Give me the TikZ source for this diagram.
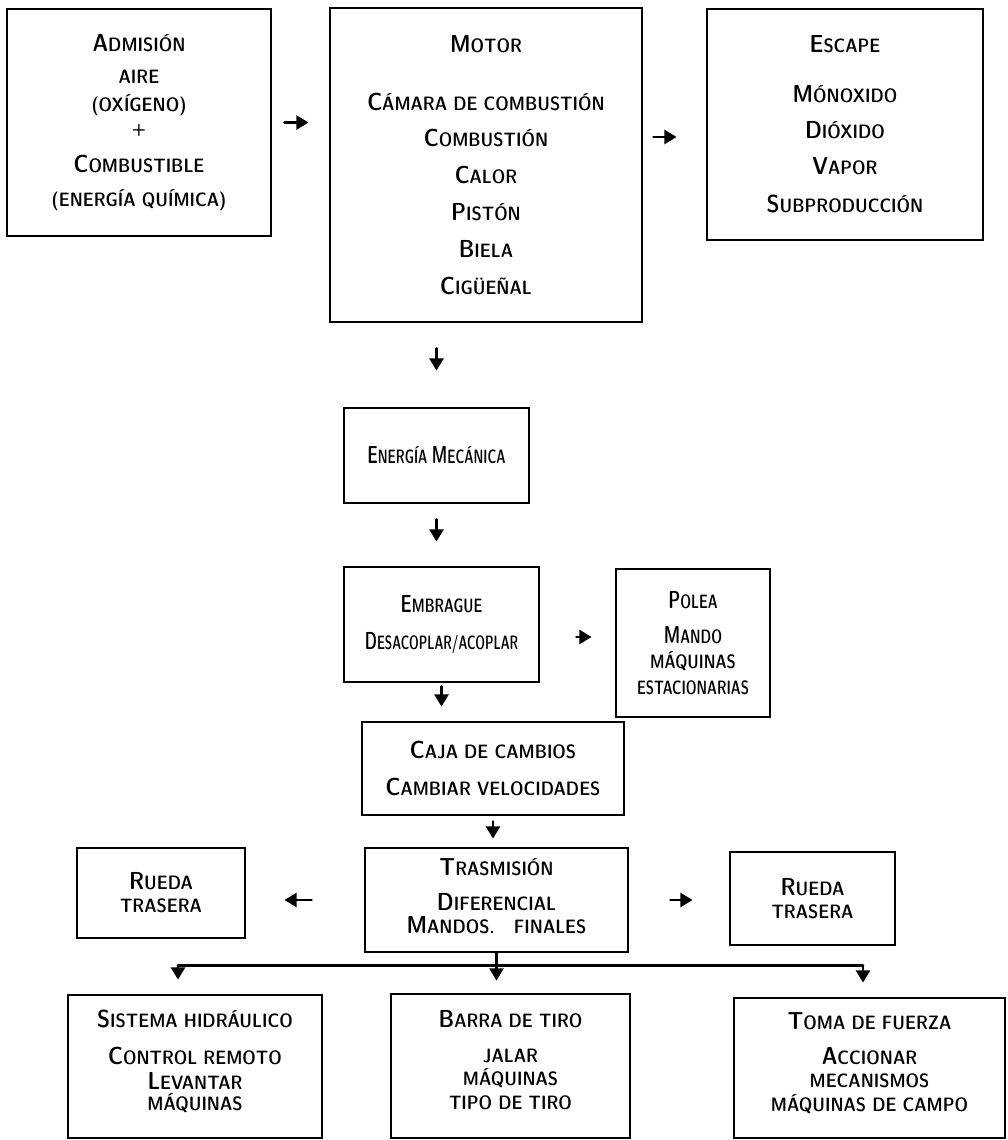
\documentclass[tikz,border=0pt]{standalone}
\usepackage{tikz}
\usepackage{graphicx}
\usetikzlibrary{arrows.meta}
\newcommand{\ini}[1]{{\fontsize{14}{19}\selectfont #1}}
\newcommand{\nar}[2][0.8]{\scalebox{#1}[1]{#2}}

\begin{document}
\begin{tikzpicture}[>={Triangle[length=7pt,width=8pt]},line cap=round,
  font=\fontseries{sbc}\sffamily\fontsize{11}{19}\selectfont,
  box/.style={draw,line width=1.6pt,align=center,inner sep=0pt},
  arr/.style={->,line width=1.5pt}]
\useasboundingbox (0,0) rectangle (20.14,-22.8);
\node[box,minimum width=5.28cm,minimum height=4.54cm] (adm) at (2.78,-2.45)
  {\ini{A}DMISIÓN\\[-1pt] AIRE\\[-3pt] (OXÍGENO)\\[-5pt] +\\[2pt] \ini{C}OMBUSTIBLE\\ (ENERGÍA QUÍMICA)};
\node[box,minimum width=6.24cm,minimum height=6.28cm] (motor) at (9.72,-3.30)
  {\ini{M}OTOR\\[14pt] \ini{C}ÁMARA DE COMBUSTIÓN\\[2pt] \ini{C}OMBUSTIÓN\\[2pt] \ini{C}ALOR\\[2pt]
   \ini{P}ISTÓN\\[2pt] \ini{B}IELA\\[2pt] \ini{C}IGÜEÑAL};
\node[box,minimum width=5.52cm,minimum height=4.62cm] (esc) at (16.90,-2.49)
  {\ini{E}SCAPE\\[9pt] \ini{M}ÓNOXIDO\\[2pt] \ini{D}IÓXIDO\\[1pt] \ini{V}APOR\\[3pt] \ini{S}UBPRODUCCIÓN};
\node[box,minimum width=3.70cm,minimum height=1.90cm] (ener) at (8.73,-9.11)
  {\nar[0.75]{\ini{E}NERGÍA \ini{M}ECÁNICA}};
\node[box,minimum width=3.90cm,minimum height=2.30cm] (embr) at (8.83,-12.49)
  {\nar{\ini{E}MBRAGUE}\\[2pt] \nar[0.72]{\ini{D}ESACOPLAR/ACOPLAR}};
\node[box,minimum width=3.08cm,minimum height=2.96cm] (polea) at (13.86,-12.86)
  {\nar{\ini{P}OLEA}\\[1pt] \nar{\ini{M}ANDO}\\[-5pt] \nar[0.9]{MÁQUINAS}\\[-4pt] \nar{ESTACIONARIAS}};
\node[box,minimum width=5.24cm,minimum height=1.86cm] (caja) at (9.86,-15.37)
  {\ini{C}AJA DE CAMBIOS\\[2pt] \ini{C}AMBIAR VELOCIDADES};
\node[box,minimum width=5.26cm,minimum height=2.08cm] (tras) at (9.93,-18.00)
  {\ini{T}RASMISIÓN\\[1pt] \ini{D}IFERENCIAL\\[-6pt] \ini{M}ANDOS.\quad FINALES\\[-14pt]\mbox{}};
\node[box,minimum width=3.36cm,minimum height=1.80cm] (ruedaL) at (3.22,-17.86)
  {\ini{R}UEDA\\[-6pt] TRASERA};
\node[box,minimum width=3.30cm,minimum height=1.86cm] (ruedaR) at (16.25,-17.97)
  {\ini{R}UEDA\\[-6pt] TRASERA};
\node[box,minimum width=5.08cm,minimum height=2.86cm] (sis) at (3.90,-21.33)
  {\ini{S}ISTEMA HIDRÁULICO\\[2pt] \ini{C}ONTROL REMOTO\\[-5pt] \ini{L}EVANTAR\\[-7pt] MÁQUINAS\\[-12pt]\mbox{}};
\node[box,minimum width=4.78cm,minimum height=2.88cm] (barra) at (10.21,-21.32)
  {\ini{B}ARRA DE TIRO\\[1pt] JALAR\\[-6pt] MÁQUINAS\\[-5pt] TIPO DE TIRO\\[-12pt]\mbox{}};
\node[box,minimum width=5.42cm,minimum height=2.80cm] (toma) at (17.39,-21.36)
  {\ini{T}OMA DE FUERZA\\[1pt] \ini{A}CCIONAR\\[-6pt] MECANISMOS\\[-5pt] MÁQUINAS DE CAMPO\\[-12pt]\mbox{}};
\draw[arr,shorten <=0.24cm,shorten >=0.40cm] (adm.east) -- (adm.east -| motor.west);
\draw[arr,shorten <=0.20cm,shorten >=0.58cm] ([yshift=-0.25cm]esc.west -| motor.east) -- ([yshift=-0.25cm]esc.west);
\draw[arr,shorten <=0.50cm,shorten >=0.72cm] (ener.north |- motor.south) -- (ener.north);
\draw[arr,shorten <=0.30cm,shorten >=0.48cm] (ener.south) -- (ener.south |- embr.north);
\draw[arr,shorten <=0.72cm,shorten >=0.46cm] ([yshift=-0.25cm]embr.east) -- ([yshift=-0.25cm]embr.east -| polea.west);
\draw[arr,shorten <=0.06cm,shorten >=0.28cm] (embr.south) -- (embr.south |- caja.north);
\draw[arr,shorten <=0.10cm,shorten >=0.16cm] (caja.south) -- (caja.south |- tras.north);
\draw[arr,shorten <=1.04cm,shorten >=0.76cm] (tras.west) -- (tras.west -| ruedaL.east);
\draw[arr,shorten <=0.82cm,shorten >=0.72cm] (tras.east) -- (tras.east -| ruedaR.west);
\coordinate (bus) at ([yshift=-0.24cm]tras.south);
\coordinate (bl) at ([xshift=-0.34cm]sis.north);
\coordinate (br) at ([xshift=-0.13cm]toma.north);
\draw[line width=1.5pt] (bl |- bus) -- (br |- bus);
\draw[arr,shorten >=0.24cm] (tras.south) -- (tras.south |- barra.north);
\draw[arr,shorten >=0.28cm] (bl |- bus) -- (bl);
\draw[arr,shorten >=0.28cm] (br |- bus) -- (br);
\end{tikzpicture}
\end{document}
